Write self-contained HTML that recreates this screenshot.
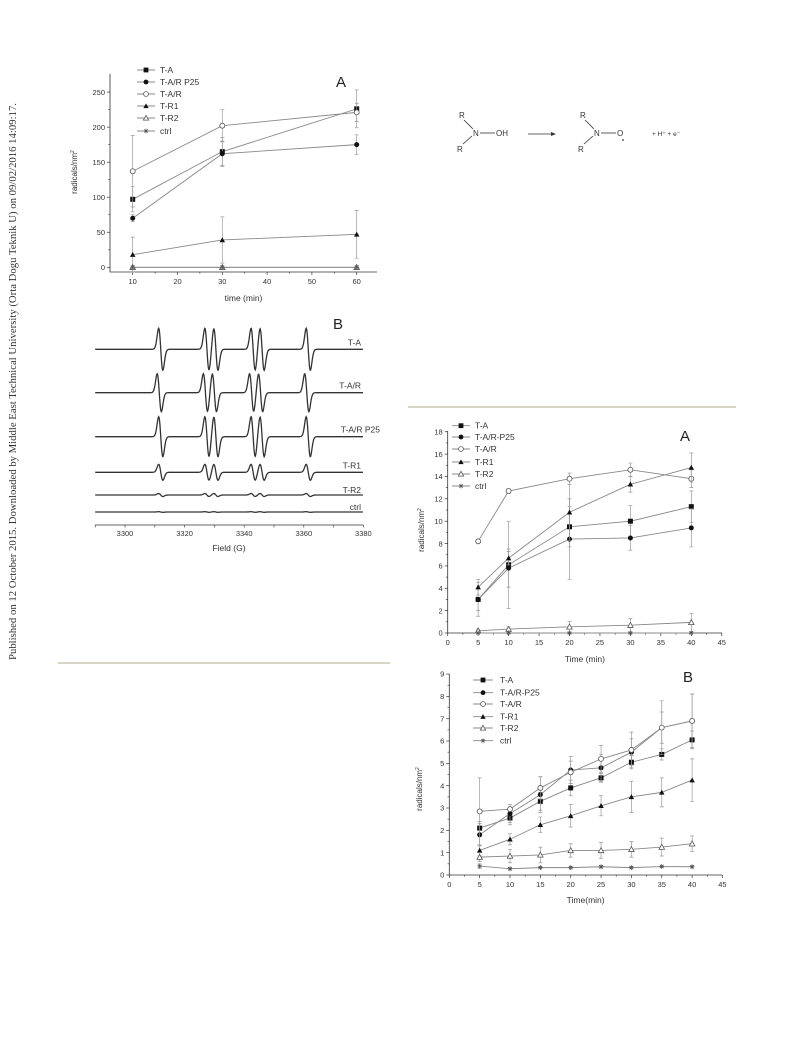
<!DOCTYPE html>
<html><head><meta charset="utf-8"><style>
html,body{margin:0;padding:0;background:#fff;}
svg{display:block;font-family:"Liberation Sans",Arial,sans-serif;}
</style></head><body>
<svg id="root" width="793" height="1039" viewBox="0 0 793 1039" xmlns="http://www.w3.org/2000/svg">
<text transform="translate(16,660) rotate(-90)" font-family="Liberation Serif, serif" font-size="11" fill="#333" textLength="557" lengthAdjust="spacingAndGlyphs">Published on 12 October 2015. Downloaded by Middle East Technical University (Orta Dogu Teknik U) on 09/02/2016 14:09:17.</text>
<line x1="58" y1="663" x2="390" y2="663" stroke="#d9d6c9" stroke-width="2"/>
<line x1="408" y1="407" x2="736" y2="407" stroke="#d9d6c9" stroke-width="2"/>
<g font-size="8" fill="#333" stroke="#333">
<text x="459" y="118" stroke="none">R</text><text x="457" y="152" stroke="none">R</text>
<line x1="464" y1="120" x2="473" y2="129" stroke-width="0.8"/><line x1="463" y1="144" x2="472" y2="136" stroke-width="0.8"/>
<text x="473" y="136" stroke="none">N</text><line x1="480" y1="133" x2="495" y2="133" stroke-width="0.8"/>
<text x="496" y="136" stroke="none">OH</text>
<line x1="528" y1="134" x2="551" y2="134" stroke-width="0.8"/><polygon points="551,132 556,134 551,136" stroke="none"/>
<text x="580" y="118" stroke="none">R</text><text x="578" y="152" stroke="none">R</text>
<line x1="585" y1="120" x2="594" y2="129" stroke-width="0.8"/><line x1="584" y1="144" x2="593" y2="136" stroke-width="0.8"/>
<text x="594" y="136" stroke="none">N</text><line x1="601" y1="133" x2="616" y2="133" stroke-width="0.8"/>
<text x="617" y="136" stroke="none">O</text><circle cx="623" cy="140" r="0.9" stroke="none"/>
<text x="652" y="136" font-size="6.5" stroke="none">+ H⁺ + e⁻</text>
</g>
<g id="c1"></g>
<g id="c2"></g>
<g id="c3"></g>
<g id="c4"></g>
</svg>
<script>
var NS="http://www.w3.org/2000/svg";
var seriesNames=["T-A","T-A/R P25","T-A/R","T-R1","T-R2","ctrl"];
var seriesNamesR=["T-A","T-A/R-P25","T-A/R","T-R1","T-R2","ctrl"];
var markerTypes=["sq","ci","oci","tri","otri","star"];
// Chart 1 data
var c1X=[10,30,60];
var c1TA=[97,165,226], c1TAe=[18,20,27];
var c1P25=[70,162,175], c1P25e=[5,18,14];
var c1AR=[137,202,221], c1ARe=[51,23,13];
var c1R1=[18,39,47], c1R1e=[25,33,34];
var c1R2=[0,0,0], c1R2e=[2,2,2];
var c1C=[0,0,0], c1Ce=[1,1,1];
var c1XTicks=[10,20,30,40,50,60];
var c1YTicks=[0,50,100,150,200,250];
// Chart 3 data (right A)
var c3X=[5,10,20,30,40];
var c3TA=[3.0,6.1,9.5,10.0,11.3], c3TAe=[1.0,3.9,1.8,1.4,1.4];
var c3P25=[3.0,5.8,8.4,8.5,9.4], c3P25e=[1.5,1.7,3.6,1.1,1.7];
var c3AR=[8.2,12.7,13.8,14.6,13.8], c3ARe=[0.05,0.2,0.5,0.6,0.8];
var c3R1=[4.1,6.7,10.8,13.3,14.8], c3R1e=[0.7,0.6,2.5,0.7,1.3];
var c3R2=[0.2,0.35,0.55,0.7,0.95], c3R2e=[0.1,0.2,0.5,0.6,0.8];
var c3C=[0,0,0,0,0], c3Ce=[0.05,0.05,0.05,0.05,0.05];
var c3XTicks=[0,5,10,15,20,25,30,35,40,45];
var c3YTicks=[0,2,4,6,8,10,12,14,16,18];
// Chart 4 data (right B)
var c4X=[5,10,15,20,25,30,35,40];
var c4TA=[2.1,2.55,3.3,3.9,4.35,5.05,5.4,6.05], c4TAe=[0.3,0.3,0.4,0.35,0.2,0.3,0.25,0.4];
var c4P25=[1.8,2.75,3.6,4.7,4.8,5.5,6.6,6.9], c4P25e=[0.5,0.4,0.8,0.6,0.6,0.6,0.7,1.2];
var c4AR=[2.85,2.95,3.9,4.6,5.2,5.6,6.6,6.9], c4ARe=[1.5,0.1,0.5,0.5,0.6,0.8,1.2,1.2];
var c4R1=[1.1,1.6,2.25,2.65,3.1,3.5,3.7,4.25], c4R1e=[0.25,0.25,0.35,0.5,0.45,0.7,0.65,0.95];
var c4R2=[0.8,0.85,0.9,1.1,1.1,1.15,1.25,1.4], c4R2e=[0.2,0.3,0.35,0.3,0.35,0.35,0.4,0.35];
var c4C=[0.4,0.28,0.33,0.33,0.37,0.33,0.38,0.37], c4Ce=[0.1,0.05,0.05,0.05,0.05,0.05,0.05,0.05];
var c4XTicks=[0,5,10,15,20,25,30,35,40,45];
var c4YTicks=[0,1,2,3,4,5,6,7,8,9];
// EPR data
var eprNames=["T-A","T-A/R","T-A/R P25","T-R1","T-R2","ctrl"];
var eprAmp=[21,19,20,8,1.5,0.3];
var eprOffset=[0,-0.5,0,0,0,0];
var eprBaselineLevel=[5,4,3,2,1,0];
var eprCenters=[3312,3327.5,3330.5,3343,3346,3361.5];
var eprXTicks=[3300,3320,3340,3360,3380];

function mk(tag,attrs,parent){var e=document.createElementNS(NS,tag);for(var k in attrs)e.setAttribute(k,attrs[k]);parent.appendChild(e);return e;}
function marker(g,t,x,y,s){
  var e;
  if(t=="sq")e=mk("rect",{x:x-s,y:y-s,width:2*s,height:2*s,fill:"#111"},g);
  else if(t=="ci")e=mk("circle",{cx:x,cy:y,r:s,fill:"#111"},g);
  else if(t=="oci")e=mk("circle",{cx:x,cy:y,r:s,fill:"#fff",stroke:"#555","stroke-width":0.8},g);
  else if(t=="tri")e=mk("polygon",{points:(x-s*1.1)+","+(y+s*0.9)+" "+(x+s*1.1)+","+(y+s*0.9)+" "+x+","+(y-s*1.1),fill:"#111"},g);
  else if(t=="otri")e=mk("polygon",{points:(x-s*1.1)+","+(y+s*0.9)+" "+(x+s*1.1)+","+(y+s*0.9)+" "+x+","+(y-s*1.1),fill:"#fff",stroke:"#555","stroke-width":0.8},g);
  else {e=mk("path",{d:"M"+(x-s)+","+y+"H"+(x+s)+"M"+x+","+(y-s)+"V"+(y+s)+"M"+(x-s*0.7)+","+(y-s*0.7)+"L"+(x+s*0.7)+","+(y+s*0.7)+"M"+(x-s*0.7)+","+(y+s*0.7)+"L"+(x+s*0.7)+","+(y-s*0.7),stroke:"#555","stroke-width":0.7,fill:"none"},g);}
  
  
  return e;
}
function lineChart(g,o){
  var sx=function(v){return o.x0+(v-o.xmin)*o.xs;};
  var sy=function(v){return o.y0-(v-o.ymin)*o.ys;};
  var ax=mk("path",{d:"M"+o.ax1+","+o.axTop+"V"+o.axBot+"H"+o.ax2,stroke:"#333","stroke-width":0.8,fill:"none"},g);
  
  
  o.xt.forEach(function(v,i){
    var x=sx(v);mk("line",{x1:x,y1:o.axBot,x2:x,y2:o.axBot+3,stroke:"#333","stroke-width":0.7},g);
    if(i<o.xt.length-1&&o.minor){var xm=sx(v+(o.xt[1]-o.xt[0])/2);mk("line",{x1:xm,y1:o.axBot,x2:xm,y2:o.axBot+1.8,stroke:"#333","stroke-width":0.6},g);}
    var t=mk("text",{x:x,y:o.axBot+12,"font-size":7.5,"text-anchor":"middle",fill:"#333"},g);t.textContent=v;
    
    
  });
  o.yt.forEach(function(v,i){
    var y=sy(v);mk("line",{x1:o.ax1-3,y1:y,x2:o.ax1,y2:y,stroke:"#333","stroke-width":0.7},g);
    if(i<o.yt.length-1){var ym=sy(v+(o.yt[1]-o.yt[0])/2);mk("line",{x1:o.ax1-1.8,y1:ym,x2:o.ax1,y2:ym,stroke:"#333","stroke-width":0.6},g);}
    var t=mk("text",{x:o.ax1-5,y:y+2.7,"font-size":7.5,"text-anchor":"end",fill:"#333"},g);t.textContent=v;
    
    
  });
  var xt=mk("text",{x:(o.ax1+o.ax2)/2,y:o.xtY,"font-size":8.5,"text-anchor":"middle",fill:"#333"},g);xt.textContent=o.xtitle;
  
  
  var yt=mk("text",{transform:"translate("+o.ytX+","+o.ytY+") rotate(-90)","font-size":8,"text-anchor":"middle",fill:"#333"},g);
  yt.innerHTML='radicals/nm<tspan dy="-3" font-size="5">2</tspan>';
  
  
  var pl=mk("text",{x:o.plX,y:o.plY,"font-size":15,fill:"#222"},g);pl.textContent=o.panel;
  
  
  o.series.forEach(function(s,k){
    var sg=mk("g",{},g);
    
    
    var d="";
    o.xs_.forEach(function(xv,i){
      var x=sx(xv),y=sy(s[0][i]),e=s[1][i];
      var eb=mk("path",{d:"M"+x+","+sy(s[0][i]-e)+"V"+sy(s[0][i]+e)+"M"+(x-2)+","+sy(s[0][i]+e)+"H"+(x+2)+"M"+(x-2)+","+sy(s[0][i]-e)+"H"+(x+2),stroke:"#999","stroke-width":0.7,fill:"none"},sg);
      
      
      d+=(i?"L":"M")+x+","+y;
    });
    var ln=mk("path",{d:d,stroke:"#888","stroke-width":0.9,fill:"none"},sg);
    
    
    o.xs_.forEach(function(xv,i){marker(sg,markerTypes[k],sx(xv),sy(s[0][i]),2.5);});
    var ly=o.legY[k];
    var lg=mk("g",{},g);
    
    
    mk("line",{x1:o.legX1,y1:ly,x2:o.legX2,y2:ly,stroke:"#888","stroke-width":0.9},lg);
    marker(lg,markerTypes[k],(o.legX1+o.legX2)/2,ly,2.4);
    var lt=mk("text",{x:o.legT,y:ly+3,"font-size":8.5,fill:"#333"},lg);lt.textContent=o.names[k];
  });
}
lineChart(document.getElementById("c1"),{x0:132.7,xmin:10,xs:4.48,y0:267.3,ymin:0,ys:0.701,
  ax1:110,ax2:377,axTop:74,axBot:272,xt:c1XTicks,yt:c1YTicks,minor:true,xtitle:"time (min)",xtY:301,ytX:77,ytY:172,
  panel:"A",plX:336,plY:87,names:seriesNames,xs_:c1X,
  series:[[c1TA,c1TAe],[c1P25,c1P25e],[c1AR,c1ARe],[c1R1,c1R1e],[c1R2,c1R2e],[c1C,c1Ce]],
  legY:[70,82,94,106,118,131],legX1:137,legX2:155,legT:160});
lineChart(document.getElementById("c3"),{x0:447.7,xmin:0,xs:6.09,y0:633,ymin:0,ys:11.18,
  ax1:447.7,ax2:722,axTop:431,axBot:633,xt:c3XTicks,yt:c3YTicks,minor:true,xtitle:"Time (min)",xtY:662,ytX:424,ytY:530,
  panel:"A",plX:680,plY:441,names:seriesNamesR,xs_:c3X,
  series:[[c3TA,c3TAe],[c3P25,c3P25e],[c3AR,c3ARe],[c3R1,c3R1e],[c3R2,c3R2e],[c3C,c3Ce]],
  legY:[425.7,437,449,462,474,486],legX1:452,legX2:470,legT:475});
lineChart(document.getElementById("c4"),{x0:449.3,xmin:0,xs:6.07,y0:875,ymin:0,ys:22.33,
  ax1:449.3,ax2:722,axTop:674,axBot:875,xt:c4XTicks,yt:c4YTicks,minor:true,xtitle:"Time(min)",xtY:903,ytX:422,ytY:789,
  panel:"B",plX:683,plY:682,names:seriesNamesR,xs_:c4X,
  series:[[c4TA,c4TAe],[c4P25,c4P25e],[c4AR,c4ARe],[c4R1,c4R1e],[c4R2,c4R2e],[c4C,c4Ce]],
  legY:[680,692.7,704,716.7,728,740.7],legX1:473,legX2:493,legT:500});

// EPR chart
(function(){
  var g=document.getElementById("c2");
  var sx=function(v){return 125+(v-3300)*2.98;};
  var baseY=function(lvl){return [512,495,472.3,436.7,392.7,349.3][lvl];};
  var ax=mk("line",{x1:95,y1:525,x2:363.5,y2:525,stroke:"#333","stroke-width":0.8},g);
  
  
  for(var v=3290;v<=3380;v+=10){var x=sx(v);mk("line",{x1:x,y1:525,x2:x,y2:527.5,stroke:"#333","stroke-width":0.6},g);}
  eprXTicks.forEach(function(v){var t=mk("text",{x:sx(v),y:536,"font-size":7.5,"text-anchor":"middle",fill:"#333"},g);t.textContent=v;
    
    });
  var xt=mk("text",{x:229,y:551,"font-size":8.5,"text-anchor":"middle",fill:"#333"},g);xt.textContent="Field (G)";
  
  
  var pl=mk("text",{x:333,y:329,"font-size":15,fill:"#222"},g);pl.textContent="B";
  
  
  var w=0.7;
  var labOff=[4,4,4,4,2,2];
  eprNames.forEach(function(n,k){
    var b=baseY(eprBaselineLevel[k]),d="";
    for(var f=3290;f<=3380;f+=0.15){
      var y=0;
      eprCenters.forEach(function(c){var u=(f-c-eprOffset[k])/w;y+=eprAmp[k]*u*Math.exp(0.5-u*u/2);});
      d+=(d?"L":"M")+sx(f).toFixed(2)+","+(b+y).toFixed(2);
    }
    var p=mk("path",{d:d,stroke:"#333","stroke-width":1.3,fill:"none"},g);
    
    
    var t=mk("text",{x:n=="T-A/R P25"?380:361,y:b-labOff[k],"font-size":8.5,"text-anchor":"end",fill:"#333"},g);
    t.textContent=n;
    
    
  });
})();
</script>
</body></html>
